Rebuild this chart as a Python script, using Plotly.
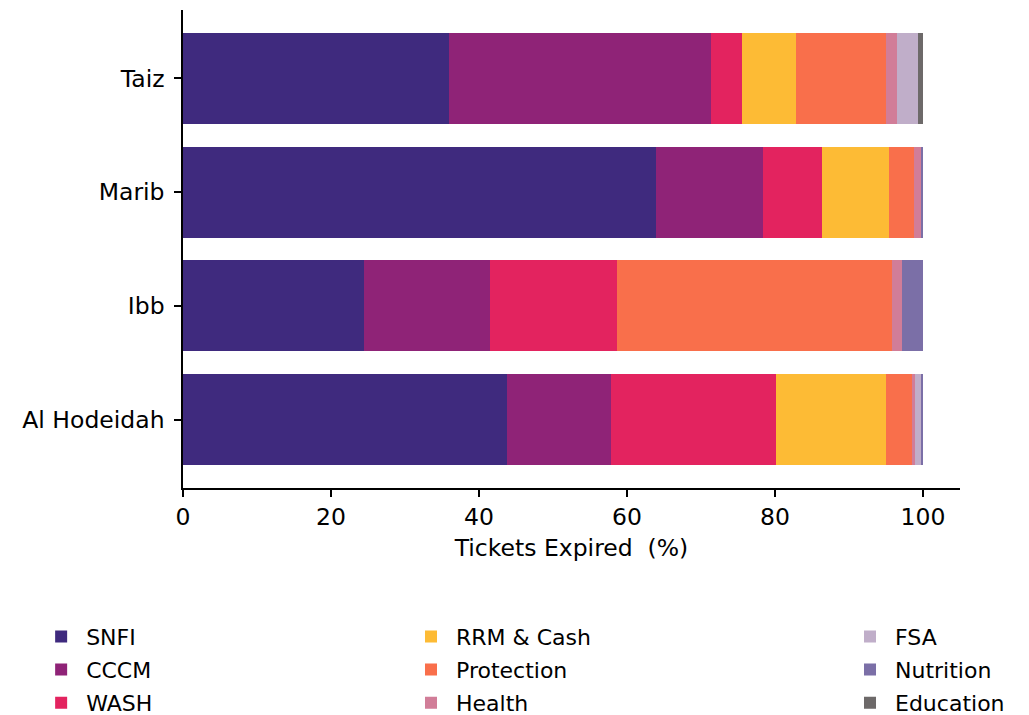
import plotly.graph_objects as go

regions = ["Al Hodeidah", "Ibb", "Marib", "Taiz"]
sectors = ["SNFI", "CCCM", "WASH", "RRM & Cash", "Protection", "Health", "FSA", "Nutrition", "Education"]

snfi       = [43.8, 24.4, 63.9, 36.0]
cccm       = [14.0, 17.1, 14.5, 35.3]
wash       = [22.4, 17.1, 7.9, 4.3]
rrm_cash   = [14.8, 0.0, 9.1, 7.2]
protection = [3.5, 37.2, 3.4, 12.2]
health     = [0.4, 1.4, 1.0, 1.5]
fsa        = [0.9, 0.0, 0.0, 2.8]
nutrition  = [0.2, 2.8, 0.2, 0.0]
education  = [0.0, 0.0, 0.0, 0.7]

values = [snfi, cccm, wash, rrm_cash, protection, health, fsa, nutrition, education]
colors = ["#3F2A7E", "#8F2377", "#E3235F", "#FDBB35", "#F96F4B",
          "#D17D98", "#C0AEC9", "#7B6FA7", "#6D6969"]
legend_ids = ["legend", "legend", "legend", "legend2", "legend2", "legend2",
              "legend3", "legend3", "legend3"]

FONT = "DejaVu Sans"
FS = 23.5
LFS = 22

fig = go.Figure()
for name, vals, col, lg in zip(sectors, values, colors, legend_ids):
    fig.add_trace(go.Bar(
        y=regions, x=vals, name=name, orientation="h",
        marker=dict(color=col, line=dict(width=0)),
        legend=lg, legendgroup=name,
    ))

leg_common = dict(
    orientation="v", yanchor="top", xanchor="left",
    font=dict(family=FONT, size=LFS, color="black"),
    bgcolor="rgba(0,0,0,0)", tracegroupgap=1.5, itemwidth=40,
)

LY = -0.267

fig.update_layout(
    width=1029, height=715,
    margin=dict(l=183, r=69, t=10, b=227, autoexpand=False),
    barmode="stack", bargap=0.2,
    plot_bgcolor="white", paper_bgcolor="white",
    font=dict(family=FONT, size=FS, color="black"),
    legend=dict(x=-0.189, y=LY, **leg_common),
    legend2=dict(x=0.287, y=LY, **leg_common),
    legend3=dict(x=0.852, y=LY, **leg_common),
    xaxis=dict(
        range=[0, 105], tickvals=[0, 20, 40, 60, 80, 100],
        showline=True, linecolor="black", linewidth=1.5,
        ticks="outside", ticklen=7, tickwidth=1.5, tickcolor="black",
        showgrid=False, zeroline=False,
        title=dict(text="Tickets Expired\u00a0 (%)", font=dict(size=FS), standoff=10),
        tickfont=dict(size=FS),
    ),
    yaxis=dict(
        range=[-0.6, 3.6],
        showline=True, linecolor="black", linewidth=1.5,
        ticks="outside", ticklen=7, tickwidth=1.5, tickcolor="black",
        showgrid=False, zeroline=False,
        tickfont=dict(size=FS), ticklabelstandoff=5,
    ),
)

fig.write_html("out.html")
